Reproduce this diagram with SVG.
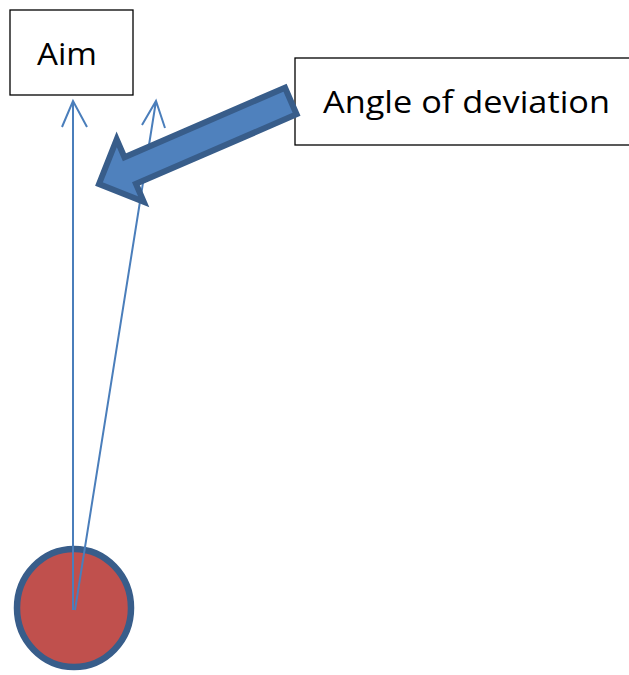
<svg xmlns="http://www.w3.org/2000/svg" width="629" height="675" viewBox="0 0 629 675">
<style>
.box{fill:#fff;stroke:#000;stroke-width:1.3}
.lbl{font-family:"Open Sans","Liberation Sans",Arial,sans-serif;font-size:31px;fill:#000}
.ray{stroke:#4A7EBB;stroke-width:2;fill:none}
</style>
<rect width="629" height="675" fill="#fff"/>
<g id="ball">
<ellipse cx="74" cy="608" rx="57" ry="59" fill="#C0504D" stroke="#385D8A" stroke-width="6.5"/>
</g>
<g id="aim">
<rect class="box" x="10" y="10" width="123" height="85"/>
<text class="lbl" x="37" y="65" textLength="60" lengthAdjust="spacingAndGlyphs">Aim</text>
</g>
<g id="label">
<rect class="box" x="295" y="58" width="340" height="87"/>
<text class="lbl" x="323" y="113" textLength="287" lengthAdjust="spacingAndGlyphs">Angle of deviation</text>
</g>
<g id="connectors">
<path class="ray" d="M73 610 L73 101 M62 127 L73 101 L87 127"/>
<path class="ray" d="M75 610 L156 101 M142 125 L156 101 L165 128"/>
<path d="M0 0 L34 -34 L34 -14.5 L209 -14.5 L209 14.5 L34 14.5 L34 34 Z" transform="translate(99,184) rotate(-23.4)" fill="#4F81BD" stroke="#385D8A" stroke-width="6" stroke-linejoin="miter"/>
</g>
</svg>
